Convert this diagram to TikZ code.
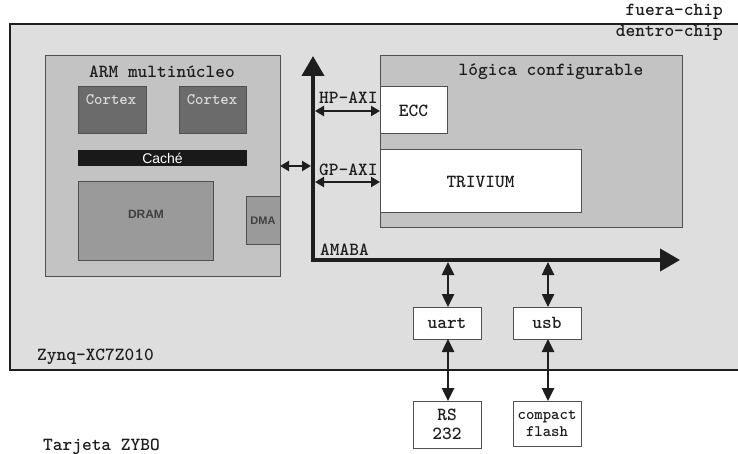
\documentclass[tikz,border=0pt]{standalone}
\usepackage{fontspec}
\setmainfont{Liberation Sans}
\usetikzlibrary{arrows.meta}
\definecolor{chipgray}{HTML}{DEDEDE}
\definecolor{blockgray}{HTML}{C3C3C3}
\definecolor{cortexgray}{HTML}{6B6B6B}
\definecolor{dramgray}{HTML}{9A9A9A}
\definecolor{edgegray}{HTML}{505050}
\definecolor{txt}{HTML}{1E1E1E}
\definecolor{lighttxt}{HTML}{DADADA}
\tikzset{
  blk/.style={draw=edgegray, line width=1pt, inner sep=0pt, outer sep=0pt, anchor=north west},
  mono/.style={font=\ttfamily\bfseries\fontsize{18.5}{19}\selectfont, text=txt},
  monosmall/.style={font=\ttfamily\bfseries\fontsize{16}{17}\selectfont, text=txt},
  sanslbl/.style={font=\bfseries\fontsize{12}{14}\selectfont, text=black!75},
  bus/.style={line width=4pt, color=txt, {Triangle[length=20pt,width=22pt]}-{Triangle[length=20pt,width=22pt]}},
  hconn/.style={line width=2.5pt, color=txt, {Triangle[length=9pt,width=10pt]}-{Triangle[length=9pt,width=10pt]}},
  vconn/.style={line width=2.5pt, color=txt, {Triangle[length=13pt,width=12pt]}-{Triangle[length=13pt,width=12pt]}},
}
\begin{document}
\begin{tikzpicture}[x=1pt,y=-1pt]
\clip (0,0) rectangle (738,454);
\fill[white] (0,0) rectangle (738,454);
% chip
\node[blk, draw=txt, line width=2pt, fill=chipgray, minimum width=740pt, minimum height=346pt] (chip) at (10,24) {};
\node[mono, anchor=east, inner sep=0pt] (fuera) at (723,12) {fuera-chip};
\node[mono, anchor=east, inner sep=0pt] (dentro) at (723,33) {dentro-chip};
\node[mono, anchor=west, inner sep=0pt] (zynq) at (37,357) {Zynq-XC7Z010};
\node[mono, anchor=west, inner sep=0pt] (zybo) at (43,447) {Tarjeta ZYBO};
% ARM
\node[blk, fill=blockgray, minimum width=235pt, minimum height=220pt] (arm) at (45,56) {};
\node[mono, inner sep=0pt] (armt) at (162,72) {ARM multinúcleo};
\node[blk, fill=cortexgray, minimum width=68pt, minimum height=47pt] (cortexA) at (78,87) {};
\node[blk, fill=cortexgray, minimum width=67pt, minimum height=47pt] (cortexB) at (179,87) {};
\node[font=\ttfamily\bfseries\fontsize{16}{17}\selectfont, text=lighttxt, inner sep=0pt] (cta) at (111,100) {Cortex};
\node[font=\ttfamily\bfseries\fontsize{16}{17}\selectfont, text=lighttxt, inner sep=0pt] (ctb) at (212,100) {Cortex};
\node[blk, draw=none, fill=black!90, minimum width=169pt, minimum height=16pt] (cache) at (78,150) {};
\node[font=\fontsize{14}{16}\selectfont, text=white, inner sep=0pt] (cachet) at (cache.center) {Caché};
\node[blk, fill=dramgray, minimum width=135pt, minimum height=78pt] (dram) at (78,182) {};
\node[sanslbl, inner sep=0pt] (dramt) at (146,214) {DRAM};
\node[blk, fill=dramgray, minimum width=34pt, minimum height=47pt] (dma) at (246,197) {};
\node[sanslbl, font=\bfseries\fontsize{11}{13}\selectfont, inner sep=0pt] (dmat) at (dma.center) {DMA};
% logic
\node[blk, fill=blockgray, minimum width=302pt, minimum height=172pt] (logic) at (380,56) {};
\node[mono, inner sep=0pt] (logict) at (551,72) {lógica configurable};
\node[blk, fill=white, minimum width=67pt, minimum height=47pt, mono] (ecc) at (380,87) {ECC};
\node[blk, fill=white, minimum width=201pt, minimum height=63pt, mono] (trivium) at (380,150) {TRIVIUM};
% peripherals
\node[blk, fill=white, minimum width=68pt, minimum height=32pt, mono] (uart) at (413,307) {uart};
\node[blk, fill=white, minimum width=68pt, minimum height=32pt, mono] (usb) at (513,307) {usb};
\node[blk, fill=white, minimum width=68pt, minimum height=47pt, mono, align=center] (rs) at (413,401) {RS\\232};
\node[blk, fill=white, minimum width=68pt, minimum height=45pt, monosmall, align=center] (cf) at (513,401) {compact\\flash};
% bus
\coordinate (bustop) at (313,56);
\coordinate (buscorner) at (313,260);
\coordinate (busend) at (680,260);
\draw[bus, line join=miter] (bustop) -- (buscorner) -- (busend);
\node[mono, anchor=west, inner sep=0pt] (amaba) at (320,250) {AMABA};
\node[mono, anchor=west, inner sep=0pt] (hpl) at (319,98) {HP-AXI};
\node[mono, anchor=west, inner sep=0pt] (gpl) at (319,170) {GP-AXI};
% connectors
\coordinate (armbus) at (311,166);
\coordinate (hpbus) at (315,111);
\coordinate (gpbus) at (315,182);
\coordinate (uartbus) at (448,262);
\coordinate (usbbus) at (548,262);
\draw[hconn] (arm.east |- armbus) -- (armbus);
\draw[hconn] (hpbus) -- (ecc.west |- hpbus);
\draw[hconn] (gpbus) -- (trivium.west |- gpbus);
\draw[vconn] (uartbus) -- (uartbus |- uart.north);
\draw[vconn] (usbbus) -- (usbbus |- usb.north);
\draw[vconn] (uartbus |- uart.south) -- (uartbus |- rs.north);
\draw[vconn] (usbbus |- usb.south) -- (usbbus |- cf.north);
\end{tikzpicture}
\end{document}
